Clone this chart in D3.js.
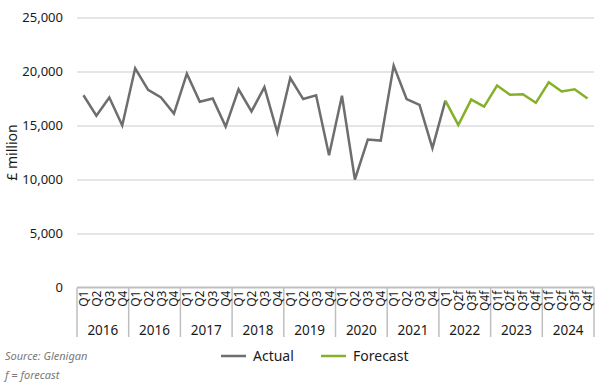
<!DOCTYPE html>
<html>
<head>
<meta charset="utf-8">
<script src="https://cdn.jsdelivr.net/npm/d3@7"></script>
<style>
  body { margin: 0; background: #fff; }
  svg { font-family: "Noto Sans", "Open Sans", sans-serif; }
</style>
</head>
<body>
<svg width="600" height="387"></svg>
<script>
// quarterly values, £ million
const actual = [17800, 15900, 17600, 15000, 20300, 18300, 17600, 16100,
                19800, 17200, 17500, 14900, 18350, 16300, 18550, 14350,
                19400, 17450, 17800, 12250, 17750, 10000, 13700, 13600,
                20550, 17450, 16900, 12900, 17300];
const forecast = [17300, 15050, 17400, 16750, 18700, 17850, 17900, 17100,
                  19000, 18150, 18350, 17500];
const forecastStart = 28;

const quarterLabels = [
  "Q1","Q2","Q3","Q4", "Q1","Q2","Q3","Q4", "Q1","Q2","Q3","Q4",
  "Q1","Q2","Q3","Q4", "Q1","Q2","Q3","Q4", "Q1","Q2","Q3","Q4",
  "Q1","Q2","Q3","Q4", "Q1","Q2f","Q3f","Q4f", "Q1f","Q2f","Q3f","Q4f",
  "Q1f","Q2f","Q3f","Q4f"];
const yearLabels = ["2016","2016","2017","2018","2019","2020","2021","2022","2023","2024"];
const yTicks = [0, 5000, 10000, 15000, 20000, 25000];

const svg = d3.select("svg"),
      margin = {top: 17.5, left: 77, right: 6},
      plotBottom = 287.5,
      width = +svg.attr("width") - margin.left - margin.right;

const x = d3.scaleBand().domain(d3.range(quarterLabels.length)).range([margin.left, margin.left + width]);
const xYear = d3.scaleBand().domain(d3.range(yearLabels.length)).range([margin.left, margin.left + width]);
const y = d3.scaleLinear().domain([0, 25000]).range([plotBottom, margin.top]);

const cx = i => x(i) + x.bandwidth() / 2;

// gridlines + y labels
const yAxis = svg.append("g")
  .attr("transform", `translate(${margin.left},0)`)
  .call(d3.axisLeft(y).tickValues(yTicks).tickSize(-width).tickPadding(14).tickFormat(d3.format(",")));
yAxis.select(".domain").remove();
yAxis.selectAll(".tick line").attr("stroke", "#dcdcdc").attr("stroke-width", 1.5)
  .filter(d => d === 0).remove();
yAxis.selectAll(".tick text").attr("font-size", 13).attr("fill", "#1a1a1a")
  .attr("font-family", "'Noto Sans', sans-serif");

svg.append("text")
  .attr("transform", `translate(17,${(margin.top + plotBottom) / 2}) rotate(-90)`)
  .attr("text-anchor", "middle")
  .attr("font-size", 14)
  .attr("fill", "#1a1a1a")
  .text("£ million");

// x axis box
const axisG = svg.append("g");
axisG.append("line")
  .attr("x1", margin.left).attr("x2", margin.left + width)
  .attr("y1", y(0)).attr("y2", y(0))
  .attr("stroke", "#bfbfbf").attr("stroke-width", 2);

const bounds = yearLabels.map((d, i) => xYear(i)).concat([margin.left + width]);
axisG.selectAll(".sep")
  .data(bounds)
  .join("line")
    .attr("class", "sep")
    .attr("x1", d => d).attr("x2", d => d)
    .attr("y1", y(0)).attr("y2", 337)
    .attr("stroke", "#bfbfbf").attr("stroke-width", 1.5);

axisG.selectAll(".qlab")
  .data(quarterLabels)
  .join("text")
    .attr("class", "qlab")
    .attr("transform", (d, i) => `translate(${cx(i) + 4.5},${y(0) + 3}) rotate(-90)`)
    .attr("text-anchor", "end")
    .attr("font-size", 12)
    .attr("fill", "#1a1a1a")
    .text(d => d);

axisG.selectAll(".ylab")
  .data(yearLabels)
  .join("text")
    .attr("class", "ylab")
    .attr("x", (d, i) => xYear(i) + xYear.bandwidth() / 2)
    .attr("y", 335)
    .attr("text-anchor", "middle")
    .attr("font-size", 13.5)
    .attr("fill", "#1a1a1a")
    .text(d => d);

// lines
const line = d3.line().x(d => cx(d.i)).y(d => y(d.v));

svg.append("path")
  .datum(actual.map((v, i) => ({i, v})))
  .attr("fill", "none")
  .attr("stroke", "#6e6e6e")
  .attr("stroke-width", 2.5)
  .attr("stroke-linejoin", "miter")
  .attr("d", line);

svg.append("path")
  .datum(forecast.map((v, i) => ({i: i + forecastStart, v})))
  .attr("fill", "none")
  .attr("stroke", "#86b02b")
  .attr("stroke-width", 2.5)
  .attr("d", line);

// legend
const legend = [{name: "Actual", color: "#6e6e6e", x: 221}, {name: "Forecast", color: "#86b02b", x: 321}];
const lg = svg.selectAll(".legend")
  .data(legend)
  .join("g")
    .attr("class", "legend")
    .attr("transform", d => `translate(${d.x},356)`);
lg.append("line")
  .attr("x1", 0).attr("x2", 25)
  .attr("stroke", d => d.color).attr("stroke-width", 2.5);
lg.append("text")
  .attr("x", 32).attr("dy", "0.35em")
  .attr("font-size", 14)
  .attr("fill", "#1a1a1a")
  .text(d => d.name);

// notes
svg.append("text")
  .attr("x", 5).attr("y", 360)
  .attr("font-size", 11).attr("font-style", "italic").attr("fill", "#7a7a7a")
  .text("Source: Glenigan");
svg.append("text")
  .attr("x", 5).attr("y", 379)
  .attr("font-size", 11).attr("font-style", "italic").attr("fill", "#7a7a7a")
  .text("f = forecast");
</script>
</body>
</html>
